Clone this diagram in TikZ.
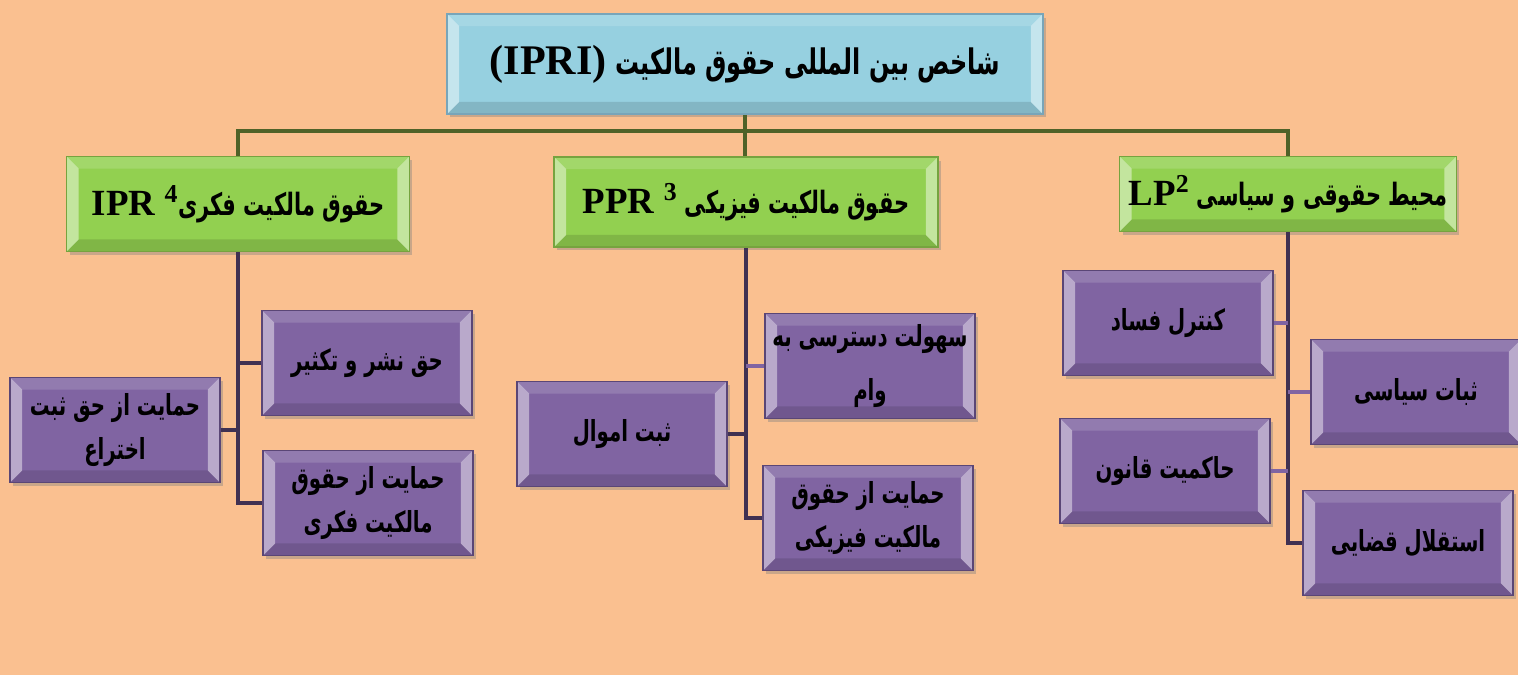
\documentclass[tikz,border=0pt]{standalone}
\usepackage{fontspec}
\usetikzlibrary{calc,shadows}
\TeXXeTstate=1
\newfontfamily\fa[Script=Arabic, FakeStretch=0.68]{DejaVu Sans}
\newfontfamily\lat{Liberation Serif}
\definecolor{peach}{RGB}{250,192,144}
\definecolor{skyfill}{RGB}{150,208,224}
\definecolor{skyline}{RGB}{120,165,185}
\definecolor{leaf}{RGB}{146,208,80}
\definecolor{leafline}{RGB}{118,163,63}
\definecolor{violet}{RGB}{128,100,162}
\definecolor{violetline}{RGB}{90,70,118}
\definecolor{plum}{RGB}{64,49,82}
\definecolor{olive}{RGB}{79,98,40}

\begin{document}
\begin{tikzpicture}[x=0.02cm, y=-0.02cm,
    bevel/.style={path picture={
        \coordinate (bsw) at (path picture bounding box.south west);
        \coordinate (bse) at (path picture bounding box.south east);
        \coordinate (bnw) at (path picture bounding box.north west);
        \coordinate (bne) at (path picture bounding box.north east);
        \fill[white, opacity=.15] (bnw) -- ([shift={(.24cm,-.24cm)}]bnw) -- ([shift={(-.24cm,-.24cm)}]bne) -- (bne) -- cycle;
        \fill[black, opacity=.12] (bsw) -- ([shift={(.24cm,.24cm)}]bsw) -- ([shift={(-.24cm,.24cm)}]bse) -- (bse) -- cycle;
        \fill[white, opacity=.45] (bsw) -- ([shift={(.24cm,.24cm)}]bsw) -- ([shift={(.24cm,-.24cm)}]bnw) -- (bnw) -- cycle;
        \fill[white, opacity=.45] (bse) -- ([shift={(-.24cm,.24cm)}]bse) -- ([shift={(-.24cm,-.24cm)}]bne) -- (bne) -- cycle;
    }},
    boxshadow/.style={drop shadow={shadow xshift=.06cm, shadow yshift=-.07cm, opacity=.4}},
    rootbox/.style={bevel, boxshadow, draw=skyline, fill=skyfill, line width=1pt, inner sep=0pt,
        minimum width=11.92cm, minimum height=2cm, align=center, font=\fontsize{20}{24}\fa\bfseries},
    mainbox/.style={bevel, boxshadow, draw=leafline, fill=leaf, line width=1pt, inner sep=0pt,
        align=center, font=\fontsize{17.5}{21}\fa\bfseries},
    subbox/.style={bevel, boxshadow, draw=violetline, fill=violet, line width=1pt, inner sep=0pt,
        minimum width=4.2cm, minimum height=2.1cm, align=center, font=\fontsize{16.5}{25}\fa\bfseries},
    trunk/.style={olive, line width=2pt},
    branch/.style={plum, line width=2.4pt},
    twig/.style={violet, line width=1.8pt}]
    % زمینه
    \fill[peach] (0,0) rectangle (1518,675);
    \useasboundingbox (0,0) rectangle (1518,675);
    % جعبه اصلی
    \node[rootbox] (ipri) at (745,64) {\beginR شاخص بین المللی حقوق مالکیت \beginL{\lat\fontsize{24}{24}\selectfont(IPRI)}\endL\endR};
    % سه شاخه
    \node[mainbox, minimum width=6.86cm, minimum height=1.9cm] (ipr) at (238,204)
        {\beginR حقوق مالکیت فکری\beginL{\lat\fontsize{21}{21}\selectfont IPR \textsuperscript{4}}\endL\endR};
    \node[mainbox, minimum width=7.68cm, minimum height=1.8cm] (ppr) at (746,202)
        {\beginR حقوق مالکیت فیزیکی \beginL{\lat\fontsize{21}{21}\selectfont PPR \textsuperscript{3}}\endL\endR};
    \node[mainbox, minimum width=6.74cm, minimum height=1.5cm] (lp) at (1288,194)
        {\beginR محیط حقوقی و سیاسی \beginL{\lat\fontsize{21}{21}\selectfont LP\textsuperscript{2}}\endL\endR};
    % خطوط بالا
    \coordinate (hub) at (745,131);
    \draw[trunk] (ipri.south) -- (hub) -| (ipr.north);
    \draw[trunk] (hub) -| (lp.north);
    \draw[trunk] (hub) -- (hub |- ppr.north);
    % مالکیت فکری
    \node[subbox] (copyright) at (367,363) {\beginR حق نشر و تکثیر\endR};
    \node[subbox] (patent) at (115,430) {\beginR حمایت از حق ثبت\endR\\\beginR اختراع\endR};
    \node[subbox] (iprprot) at (368,503) {\beginR حمایت از حقوق\endR\\\beginR مالکیت فکری\endR};
    \draw[branch] (ipr.south) -- (ipr.south |- iprprot.west) -- (iprprot.west);
    \draw[branch] (copyright.west) -- (copyright.west -| ipr.south);
    \draw[branch] (patent.east) -- (patent.east -| ipr.south);
    % مالکیت فیزیکی
    \node[subbox, font=\fontsize{16.5}{31}\fa\bfseries] (loan) at (870,366) {\beginR سهولت دسترسی به\endR\\\beginR وام\endR};
    \node[subbox] (regist) at (622,434) {\beginR ثبت اموال\endR};
    \node[subbox] (pprprot) at (868,518) {\beginR حمایت از حقوق\endR\\\beginR مالکیت فیزیکی\endR};
    \draw[branch] (ppr.south) -- (ppr.south |- pprprot.west) -- (pprprot.west);
    \draw[twig] (loan.west) -- (loan.west -| ppr.south);
    \draw[branch] (regist.east) -- (regist.east -| ppr.south);
    % محیط حقوقی و سیاسی
    \node[subbox] (corrupt) at (1168,323) {\beginR کنترل فساد\endR};
    \node[subbox] (stable) at (1416,392) {\beginR ثبات سیاسی\endR};
    \node[subbox] (law) at (1165,471) {\beginR حاکمیت قانون\endR};
    \node[subbox] (judic) at (1408,543) {\beginR استقلال قضایی\endR};
    \draw[branch] (lp.south) -- (lp.south |- judic.west) -- (judic.west);
    \draw[twig] (corrupt.east) -- (corrupt.east -| lp.south);
    \draw[twig] (stable.west) -- (stable.west -| lp.south);
    \draw[twig] (law.east) -- (law.east -| lp.south);
\end{tikzpicture}
\end{document}
